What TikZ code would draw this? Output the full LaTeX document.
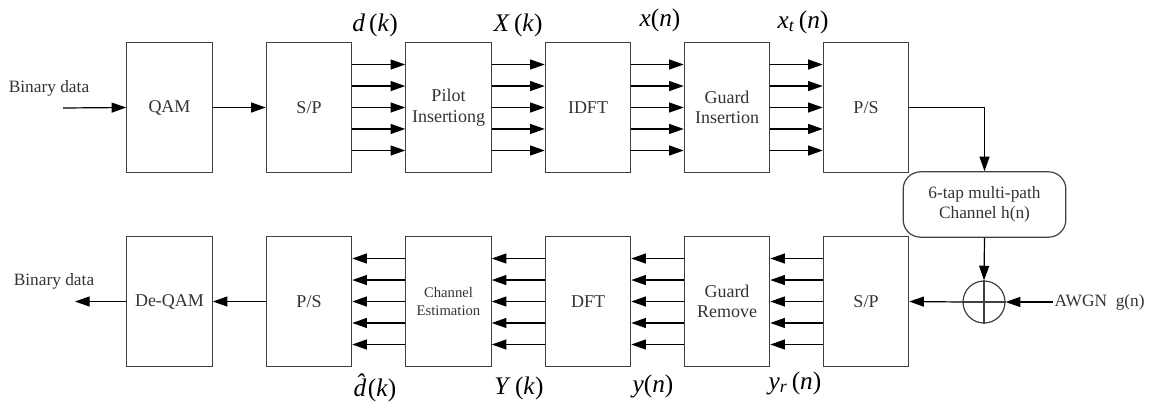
\documentclass[tikz,border=0pt]{standalone}
\usepackage{fontspec}
\setmainfont{Liberation Serif}
\usetikzlibrary{arrows.meta}

\tikzset{every picture/.style={line width=0.9pt}}
\tikzset{
  blockbox/.style={draw=black!75, minimum width=64pt, minimum height=97pt, inner sep=1pt, align=center, text=black!80, font=\fontsize{13.5}{15.5}\selectfont},
  sig/.style={-{Triangle[length=11pt,width=7.5pt]}, draw=black},
  sigtext/.style={inner sep=0.75pt, font=\fontsize{19}{21}\selectfont},
  plaintext/.style={inner sep=0.75pt, text=black!80, font=\fontsize{13}{15}\selectfont},
}

\begin{document}
\begin{tikzpicture}[x=0.75pt,y=0.75pt,yscale=-1,xscale=1]
\useasboundingbox (0,0) rectangle (1149,408);

%Transmitter row
\node [blockbox] (qam)   at (169.5,107.5) {QAM};
\node [blockbox] (sp)    at (309,107.5)   {S/P};
\node [blockbox] (pilot) at (448.5,107.5) {Pilot\\Insertiong};
\node [blockbox] (idft)  at (588,107.5)   {IDFT};
\node [blockbox] (gi)    at (727,107.5)   {Guard\\Insertion};
\node [blockbox] (ps)    at (866,107.5)   {P/S};

%Receiver row
\node [blockbox] (deqam) at (169.5,301.5) {De-QAM};
\node [blockbox] (psr)   at (309,301.5)   {P/S};
\node [blockbox, font=\fontsize{11}{13}\selectfont] (ce) at (448.5,301.5) {Channel\\Estimation};
\node [blockbox] (dft)   at (588,301.5)   {DFT};
\node [blockbox] (gr)    at (727,301.5)   {Guard\\Remove};
\node [blockbox] (spr)   at (866,301.5)   {S/P};

%Channel and noise
\node [draw=black!75, rounded corners=13pt, minimum width=122pt, minimum height=49pt, align=center, text=black!80, font=\fontsize{13}{15}\selectfont] (chan) at (984.5,204.5) {6-tap multi-path\\Channel h(n)};
\node [draw=black!75, circle, minimum size=31.5pt, inner sep=0pt] (sum) at (984,302) {};
\draw [black!75] (sum.north) -- (sum.south) (sum.west) -- (sum.east);
\node [plaintext, anchor=west] (awgn) at (1053,302) {AWGN\ \ g(n)};

% Text Node
\node [plaintext] (bin)  at (49,88)  {Binary data};
\node [plaintext] (bout) at (54,281) {Binary data};
\coordinate (in)  at (63,108);
\coordinate (out) at (75,301.5);

%Serial links
\draw [sig] (in) -- (qam.west);
\draw [sig] (qam) -- (sp);
\draw [sig] (ps.east) -| (chan.north);
\draw [sig] (chan.south) -- (sum.north);
\draw [sig] (awgn.west) -- (sum.east);
\draw [sig] (sum.west) -- (spr.east);
\draw [sig] (psr) -- (deqam);
\draw [sig] (deqam.west) -- (out);

%Parallel links
\foreach \a/\b in {sp/pilot, pilot/idft, idft/gi, gi/ps}
  \foreach \k in {-32.25,-16.1,0,16.1,32.25}
    \draw [sig] ([yshift=\k pt]\a.east) -- ([yshift=\k pt]\b.west);
\foreach \a/\b in {spr/gr, gr/dft, dft/ce, ce/psr}
  \foreach \k in {-32.25,-16.1,0,16.1,32.25}
    \draw [sig] ([yshift=\k pt]\a.west) -- ([yshift=\k pt]\b.east);

% Signal labels
\node [sigtext] (dk)  at (375,25)  {\textit{d}\,(\textit{k})};
\node [sigtext] (Xk)  at (518,25)  {\textit{X}\,(\textit{k})};
\node [sigtext] (xn)  at (660,20)  {\textit{x}(\textit{n})};
\node [sigtext] (xtn) at (803,22)  {\textit{x}\textsubscript{\textit{t}}\,(\textit{n})};
\node [sigtext] (dhk) at (375,388) {{\itshape d^^^^0302}\kern0.06em(\textit{k})};
\node [sigtext] (Yk)  at (519,388) {\textit{Y}\,(\textit{k})};
\node [sigtext] (yn)  at (653,386) {\textit{y}(\textit{n})};
\node [sigtext] (yrn) at (795,383) {\textit{y}\textsubscript{\textit{r}}\,(\textit{n})};

\end{tikzpicture}
\end{document}
